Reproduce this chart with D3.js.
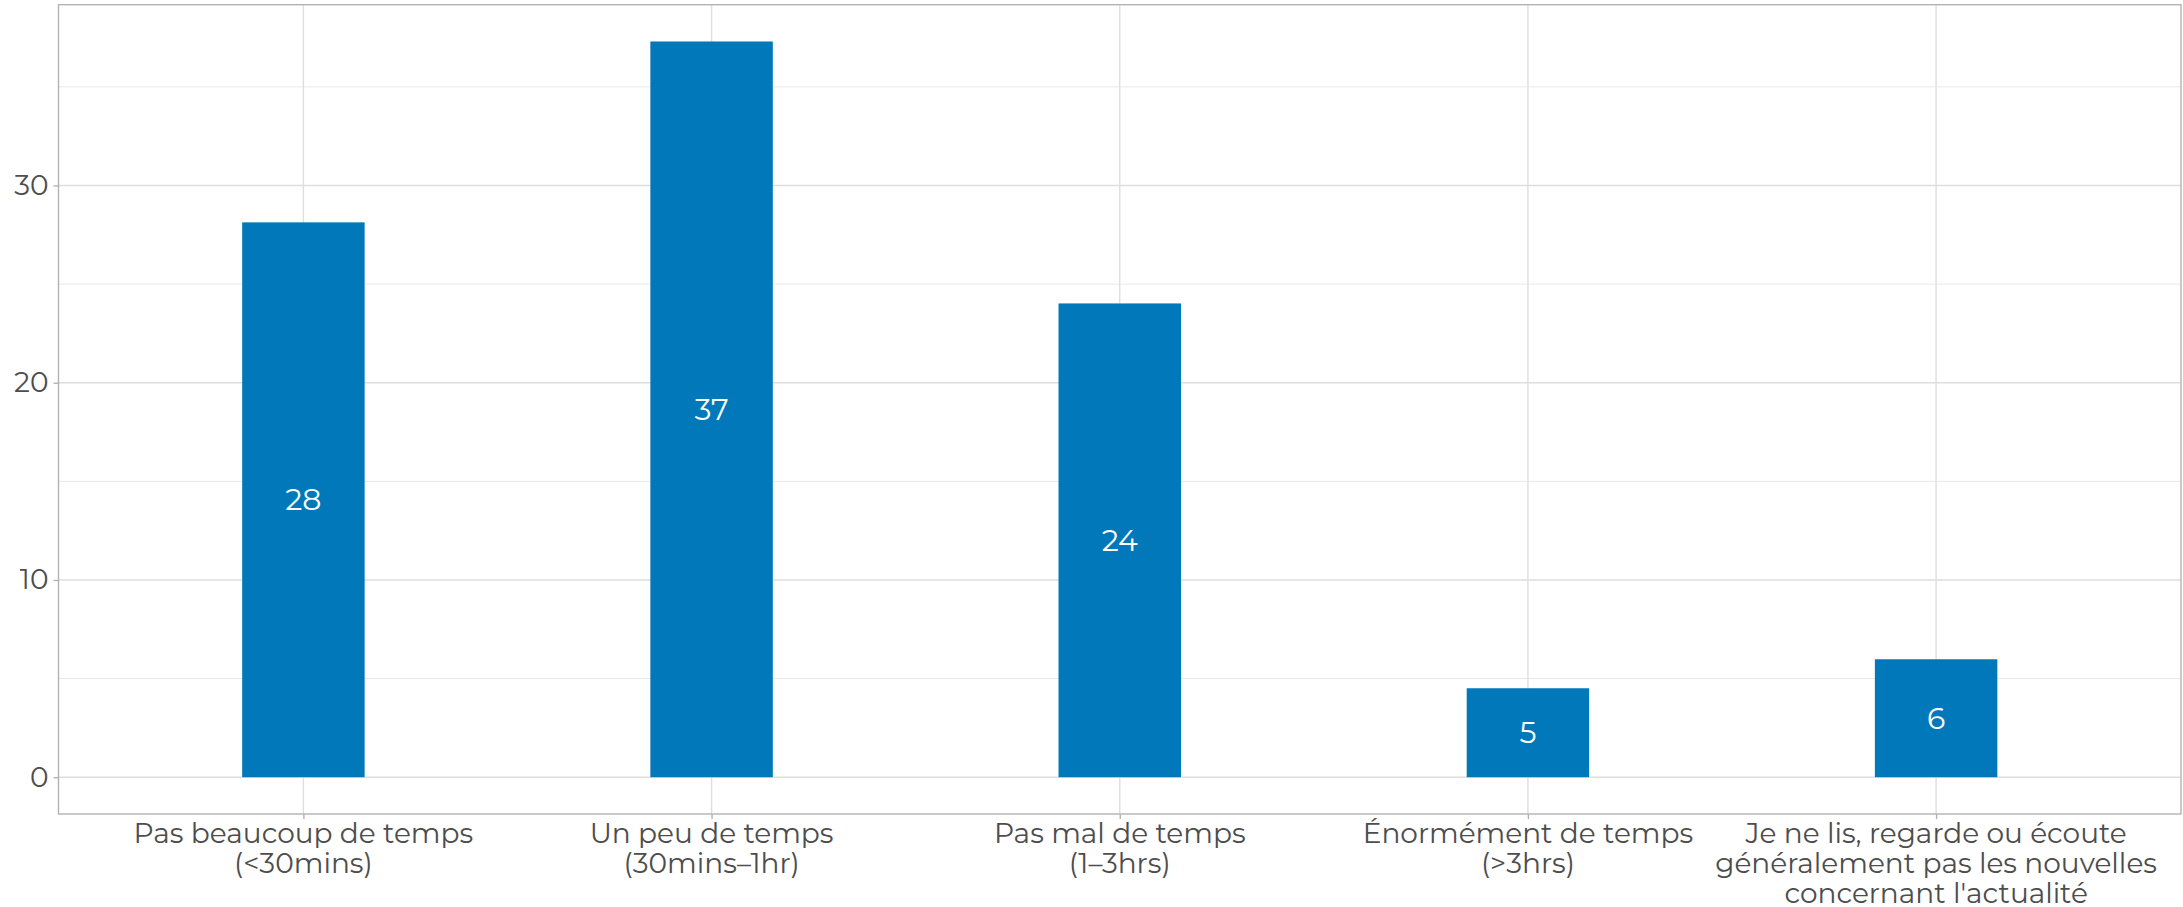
<!DOCTYPE html>
<html>
<head>
<meta charset="utf-8">
<script src="https://cdn.jsdelivr.net/npm/d3@7"></script>
<style>
  html, body { margin: 0; padding: 0; background: #ffffff; }
  svg { display: block; }
  text { font-family: "Montserrat", "DejaVu Sans", "Noto Sans", sans-serif; }
</style>
</head>
<body>
<script>
// ---- data ----
const categories = [
  ["Pas beaucoup de temps", "(<30mins)"],
  ["Un peu de temps", "(30mins–1hr)"],
  ["Pas mal de temps", "(1–3hrs)"],
  ["Énormément de temps", "(>3hrs)"],
  ["Je ne lis, regarde ou écoute", "généralement pas les nouvelles", "concernant l'actualité"]
];
const values = [28.13, 37.3, 24.02, 4.51, 5.98];
const valueLabels = ["28", "37", "24", "5", "6"];
const yTicksMajor = [0, 10, 20, 30];
const yTicksMinor = [5, 15, 25, 35];

// ---- layout ----
const W = 2183, H = 907;
const panel = { left: 58.5, right: 2181, top: 4.7, bottom: 814 };

const svg = d3.select("body").append("svg")
  .attr("width", W).attr("height", H);

const keys = categories.map((c, i) => i);
const x = d3.scalePoint().domain(keys).range([panel.left, panel.right]).padding(0.6);
const barW = x.step() * 0.3;

const yMax = d3.max(values);
const pad = yMax * 0.05;
const y = d3.scaleLinear().domain([-pad, yMax + pad]).range([panel.bottom, panel.top]);

// grid
const grid = svg.append("g");
grid.selectAll("line.minor").data(yTicksMinor).join("line")
  .attr("x1", panel.left).attr("x2", panel.right)
  .attr("y1", d => y(d)).attr("y2", d => y(d))
  .attr("stroke", "#E8E8E8").attr("stroke-width", 1);
grid.selectAll("line.major").data(yTicksMajor).join("line")
  .attr("x1", panel.left).attr("x2", panel.right)
  .attr("y1", d => y(d)).attr("y2", d => y(d))
  .attr("stroke", "#DEDEDE").attr("stroke-width", 1.4);
grid.selectAll("line.vmajor").data(keys).join("line")
  .attr("x1", d => x(d)).attr("x2", d => x(d))
  .attr("y1", panel.top).attr("y2", panel.bottom)
  .attr("stroke", "#DEDEDE").attr("stroke-width", 1.4);

// bars
svg.append("g").selectAll("rect").data(values).join("rect")
  .attr("x", (d, i) => x(i) - barW / 2)
  .attr("width", barW)
  .attr("y", d => y(d))
  .attr("height", d => y(0) - y(d))
  .attr("fill", "#0178BA");

// value labels
svg.append("g").selectAll("text").data(values).join("text")
  .attr("x", (d, i) => x(i))
  .attr("y", d => y(d / 2))
  .attr("dy", "0.35em")
  .attr("text-anchor", "middle")
  .attr("fill", "#ffffff")
  .attr("font-size", 30)
  .text((d, i) => valueLabels[i]);

// panel border
svg.append("rect")
  .attr("x", panel.left).attr("y", panel.top)
  .attr("width", panel.right - panel.left)
  .attr("height", panel.bottom - panel.top)
  .attr("fill", "none").attr("stroke", "#B3B3B3").attr("stroke-width", 1.4);

// y axis
const yAxis = d3.axisLeft(y).tickValues(yTicksMajor).tickSize(5).tickPadding(5).tickFormat(d3.format("d"));
const gy = svg.append("g").attr("transform", `translate(${panel.left},0)`).call(yAxis);
gy.select(".domain").remove();
gy.selectAll(".tick line").attr("stroke", "#B3B3B3").attr("stroke-width", 1.4);
gy.selectAll(".tick text").attr("fill", "#4D4D4D").attr("font-size", 28)
  .style("font-family", "'Montserrat','DejaVu Sans',sans-serif");

// x axis
const xAxis = d3.axisBottom(x).tickSize(5).tickFormat(() => "");
const gx = svg.append("g").attr("transform", `translate(0,${panel.bottom})`).call(xAxis);
gx.select(".domain").remove();
gx.selectAll(".tick line").attr("stroke", "#B3B3B3").attr("stroke-width", 1.4);
gx.selectAll(".tick text").remove();

const xl = svg.append("g").selectAll("text").data(categories).join("text")
  .attr("text-anchor", "middle")
  .attr("fill", "#4D4D4D")
  .attr("font-size", 28)
  .attr("transform", (d, i) => `translate(${x(i)},842.5)`);
xl.selectAll("tspan").data(d => d).join("tspan")
  .attr("x", 0)
  .attr("y", (d, j) => j * 30)
  .text(d => d);
</script>
</body>
</html>
